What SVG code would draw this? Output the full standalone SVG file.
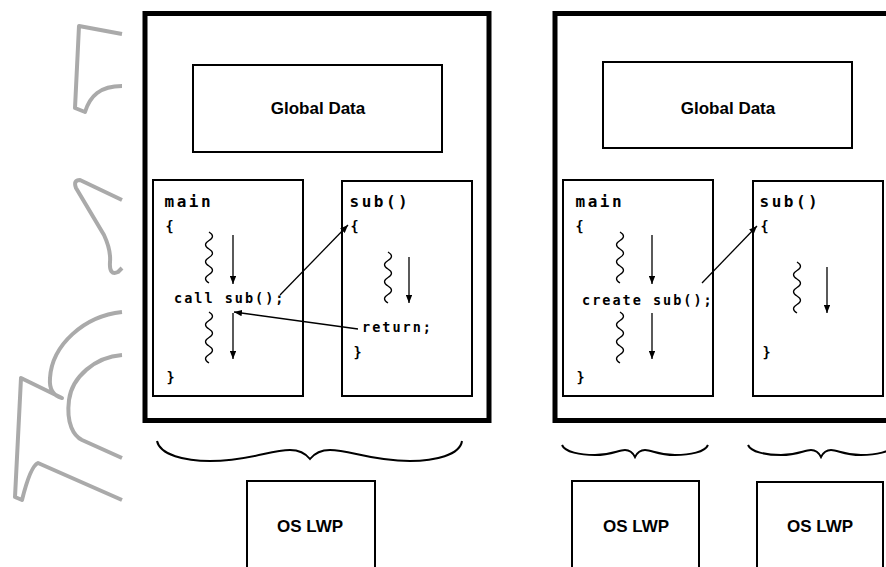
<svg xmlns="http://www.w3.org/2000/svg" width="886" height="567" viewBox="0 0 886 567">
<style>
.outer{fill:none;stroke:#000;stroke-width:5}
.box{fill:none;stroke:#000;stroke-width:2}
.lbl{font-family:"Liberation Sans",Arial,sans-serif;font-weight:bold;font-size:17px;fill:#000;text-anchor:middle}
.head{font-family:"DejaVu Sans Mono",monospace;font-weight:bold;font-size:16px;letter-spacing:2.5px;fill:#000}
.code{font-family:"DejaVu Sans Mono",monospace;font-weight:bold;font-size:13.5px;letter-spacing:2px;fill:#000}
.wire{fill:none;stroke:#000;stroke-width:1.3}
.sq{fill:none;stroke:#000;stroke-width:1.3}
.brace{fill:none;stroke:#000;stroke-width:2}
.logo{fill:none;stroke:#aaaaaa;stroke-width:4;stroke-linejoin:round}
</style>
<defs>
<marker id="ah" viewBox="0 0 10 8" refX="10" refY="4" markerWidth="8" markerHeight="6.4" markerUnits="userSpaceOnUse" orient="auto">
<path d="M0,0 L10,4 L0,8 z" fill="#000"/>
</marker>
<path id="squig" d="M0,0 q7,4.25 0,8.5 t0,8.5 t0,8.5 t0,8.5 t0,8.5 t0,8.5"/>
</defs>
<rect width="886" height="567" fill="#fff"/>

<g id="logo">
<path class="logo" d="M122,34 L79,26 L75,108 L85,112 C90,96 100,86 122,86"/>
<path class="logo" d="M122,200 L80,180 Q73,180 76,188 L104,235 Q111,250 110,262 Q109,276 118,272 L122,268"/>
<path class="logo" d="M122,312 C84,316 52,345 50,378 C49,390 54,396 62,398 L21,378 L15,497 L22,500 C27,480 33,465 38,463 L122,500"/>
<path class="logo" d="M122,355 C95,357 72,377 69,400 C66,424 74,436 82,440 L122,458"/>
</g>

<g id="process-left">
<rect class="outer" x="145" y="13.5" width="344" height="407"/>
</g>
<g id="global-data-left">
<rect class="box" x="193" y="65" width="249" height="87"/>
<text class="lbl" x="318" y="114">Global Data</text>
</g>
<g id="main-left">
<rect class="box" x="153" y="180" width="150" height="216"/>
<text class="head" x="164.5" y="207">main</text>
<text class="code" x="165.5" y="231">{</text>
<use href="#squig" class="sq" x="209" y="232"/>
<text class="code" x="174" y="303">call sub();</text>
<use href="#squig" class="sq" x="209" y="312"/>
<text class="code" x="166.5" y="382">}</text>
</g>
<g id="sub-left">
<rect class="box" x="342" y="181" width="130" height="215"/>
<text class="head" x="349.5" y="207">sub()</text>
<text class="code" x="350.5" y="231">{</text>
<use href="#squig" class="sq" x="388" y="252"/>
<text class="code" x="362" y="332">return;</text>
<text class="code" x="353.5" y="357">}</text>
</g>
<g id="os-lwp-left">
<rect class="box" x="247" y="481" width="128" height="110"/>
<text class="lbl" x="310" y="532">OS LWP</text>
</g>

<g id="process-right">
<rect class="outer" x="555" y="13.5" width="345" height="407"/>
</g>
<g id="global-data-right">
<rect class="box" x="603" y="62" width="249" height="86"/>
<text class="lbl" x="728" y="114">Global Data</text>
</g>
<g id="main-right">
<rect class="box" x="563" y="180" width="150" height="216"/>
<text class="head" x="575.5" y="207">main</text>
<text class="code" x="575.5" y="231">{</text>
<use href="#squig" class="sq" x="620" y="232"/>
<text class="code" x="582" y="305">create sub();</text>
<use href="#squig" class="sq" x="620" y="312"/>
<text class="code" x="576.5" y="382">}</text>
</g>
<g id="sub-right">
<rect class="box" x="753" y="181" width="130" height="215"/>
<text class="head" x="759.5" y="207">sub()</text>
<text class="code" x="760.5" y="231">{</text>
<use href="#squig" class="sq" x="797" y="262"/>
<text class="code" x="762.5" y="357">}</text>
</g>
<g id="os-lwp-right-1">
<rect class="box" x="572" y="481" width="127" height="110"/>
<text class="lbl" x="636" y="532">OS LWP</text>
</g>
<g id="os-lwp-right-2">
<rect class="box" x="757" y="482" width="126" height="110"/>
<text class="lbl" x="820" y="532">OS LWP</text>
</g>

<g id="braces">
<path class="brace" d="M157,441 C160,455 185,461 210,461 C250,461 270,450 290,450 C300,450 306,454 310,459 C314,454 320,450 330,450 C350,450 370,461 410,461 C435,461 460,455 462,441"/>
<path class="brace" d="M562,445 C565,452 580,455 595,455 C612,455 618,450 625,450 C630,450 633,453 635,457 C637,453 640,450 645,450 C652,450 658,455 675,455 C690,455 705,452 708,445"/>
<path class="brace" d="M748,445 C751,452 766,455 781,455 C798,455 804,450 811,450 C816,450 819,453 821,457 C823,453 826,450 831,450 C838,450 844,455 861,455 C876,455 891,452 894,445"/>
</g>

<g id="connectors">
<line class="wire" x1="233" y1="235" x2="233" y2="284" marker-end="url(#ah)"/>
<line class="wire" x1="233" y1="313" x2="233" y2="359" marker-end="url(#ah)"/>
<line class="wire" x1="409" y1="257" x2="409" y2="303" marker-end="url(#ah)"/>
<line class="wire" x1="280" y1="295" x2="348" y2="225" marker-end="url(#ah)"/>
<line class="wire" x1="358" y1="329" x2="234" y2="312" marker-end="url(#ah)"/>
<line class="wire" x1="652" y1="235" x2="652" y2="284" marker-end="url(#ah)"/>
<line class="wire" x1="652" y1="313" x2="652" y2="359" marker-end="url(#ah)"/>
<line class="wire" x1="827" y1="267" x2="827" y2="313" marker-end="url(#ah)"/>
<line class="wire" x1="702" y1="283" x2="757" y2="226" marker-end="url(#ah)"/>
</g>
</svg>
